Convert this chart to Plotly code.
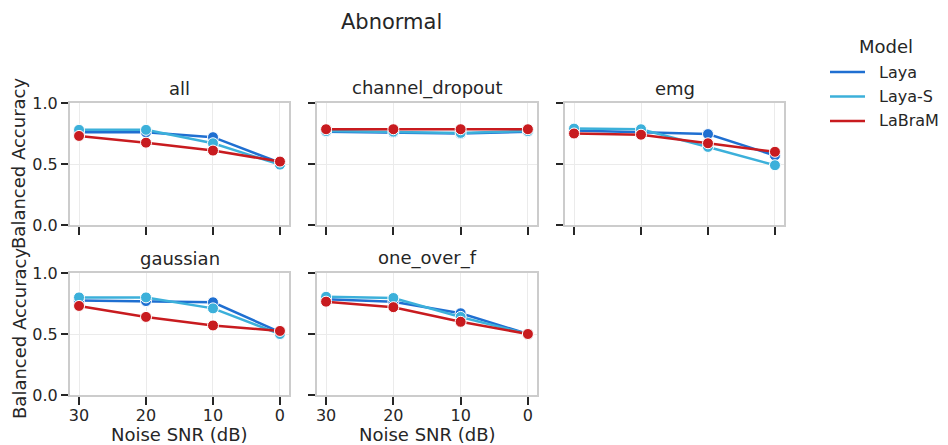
import plotly.graph_objects as go

W, H = 948, 445

snr = [30, 20, 10, 0]
models = ["Laya", "Laya-S", "LaBraM"]
colors = {"Laya": "#1f6fd1", "Laya-S": "#3cb0da", "LaBraM": "#c81b1f"}
panels = ["all", "channel_dropout", "emg", "gaussian", "one_over_f"]

laya = {
    "all": [0.76, 0.76, 0.72, 0.51],
    "channel_dropout": [0.765, 0.76, 0.75, 0.765],
    "emg": [0.775, 0.76, 0.745, 0.57],
    "gaussian": [0.775, 0.77, 0.76, 0.515],
    "one_over_f": [0.785, 0.765, 0.67, 0.50],
}
laya_s = {
    "all": [0.78, 0.78, 0.67, 0.495],
    "channel_dropout": [0.77, 0.765, 0.755, 0.77],
    "emg": [0.79, 0.785, 0.64, 0.49],
    "gaussian": [0.80, 0.80, 0.71, 0.50],
    "one_over_f": [0.805, 0.795, 0.64, 0.50],
}
labram = {
    "all": [0.73, 0.675, 0.61, 0.52],
    "channel_dropout": [0.785, 0.785, 0.785, 0.785],
    "emg": [0.75, 0.74, 0.67, 0.60],
    "gaussian": [0.73, 0.64, 0.57, 0.525],
    "one_over_f": [0.765, 0.72, 0.60, 0.50],
}
series = {"Laya": laya, "Laya-S": laya_s, "LaBraM": labram}

# panel pixel boxes (x0, x1, y0_top, y1_bottom)
boxes = [
    (70, 289, 103, 225),
    (317, 537, 103, 225),
    (565, 784, 103, 225),
    (70, 289, 273, 395),
    (317, 537, 273, 395),
]


def px(x):
    return x / W


def py(y):
    return 1 - y / H


FONT = "DejaVu Sans"
TXT = "#262626"

fig = go.Figure()
layout = {}
annotations = []
shapes = []

for i, (p, (x0, x1, y0, y1)) in enumerate(zip(panels, boxes)):
    k = "" if i == 0 else str(i + 1)
    for m in models:
        fig.add_trace(go.Scatter(
            x=snr, y=series[m][p], mode="lines+markers",
            line=dict(color=colors[m], width=2.5),
            marker=dict(size=11, color=colors[m], line=dict(color="white", width=1)),
            xaxis="x" + k, yaxis="y" + k, showlegend=False, name=m,
        ))
    show_x_labels = i >= 3
    show_y_labels = i in (0, 3)
    layout["xaxis" + k] = dict(
        domain=[px(x0), px(x1)], anchor="y" + k, range=[31.35, -1.35],
        tickvals=snr, ticktext=[str(v) for v in snr], showticklabels=show_x_labels,
        ticks="outside", ticklen=8, tickwidth=1.5, tickcolor=TXT,
        showline=True, linecolor="#cccccc", linewidth=2, mirror=True,
        showgrid=True, gridcolor="#ebebeb", gridwidth=1, zeroline=False,
        tickfont=dict(family=FONT, size=16, color=TXT), automargin=False,
        ticklabelstandoff=-3,
    )
    layout["yaxis" + k] = dict(
        domain=[py(y1), py(y0)], anchor="x" + k, range=[0, 1],
        tickvals=[0, 0.5, 1.0], ticktext=["0.0", "0.5", "1.0"], showticklabels=show_y_labels,
        ticks="outside", ticklen=7, tickwidth=1.5, tickcolor=TXT,
        showline=True, linecolor="#cccccc", linewidth=2, mirror=True,
        showgrid=True, gridcolor="#ebebeb", gridwidth=1, zeroline=False,
        tickfont=dict(family=FONT, size=16, color=TXT), automargin=False,
    )
    annotations.append(dict(
        text=p, x=px((x0 + x1) / 2), y=py(y0 - 2), xref="paper", yref="paper",
        xanchor="center", yanchor="bottom", showarrow=False,
        font=dict(family=FONT, size=18, color=TXT),
    ))
    if show_x_labels:
        annotations.append(dict(
            text="Noise SNR (dB)", x=px((x0 + x1) / 2), y=py(434), xref="paper", yref="paper",
            xanchor="center", yanchor="middle", showarrow=False,
            font=dict(family=FONT, size=18, color=TXT),
        ))
    if show_y_labels:
        annotations.append(dict(
            text="Balanced Accuracy", x=px(19), y=py((y0 + y1) / 2), xref="paper", yref="paper",
            xanchor="center", yanchor="middle", showarrow=False, textangle=-90,
            font=dict(family=FONT, size=18, color=TXT),
        ))

# legend drawn as shapes + text
LX = 830
annotations.append(dict(
    text="Model", x=px(LX + 56), y=py(47), xref="paper", yref="paper",
    xanchor="center", yanchor="middle", showarrow=False,
    font=dict(family=FONT, size=18, color=TXT),
))
for j, m in enumerate(models):
    yy = 72 + 24.5 * j
    shapes.append(dict(
        type="line", xref="paper", yref="paper",
        x0=px(LX), x1=px(LX + 35), y0=py(yy), y1=py(yy),
        line=dict(color=colors[m], width=2.5),
    ))
    annotations.append(dict(
        text=m, x=px(LX + 47), y=py(yy), xref="paper", yref="paper",
        xanchor="left", yanchor="middle", showarrow=False,
        font=dict(family=FONT, size=16, color=TXT),
    ))

annotations.append(dict(
    text="Abnormal", x=px(391), y=py(22), xref="paper", yref="paper",
    xanchor="center", yanchor="middle", showarrow=False,
    font=dict(family=FONT, size=21, color=TXT),
))

fig.update_layout(
    width=W, height=H, margin=dict(l=0, r=0, t=0, b=0, autoexpand=False),
    paper_bgcolor="white", plot_bgcolor="white",
    font=dict(family=FONT, size=16, color=TXT),
    annotations=annotations, shapes=shapes, showlegend=False,
)
fig.update_layout(**layout)

fig.write_html(
    "out.html",
    config={"displayModeBar": False},
    post_script="document.body.style.margin='0';document.body.style.overflow='hidden';"
                "document.documentElement.style.overflow='hidden';",
)
